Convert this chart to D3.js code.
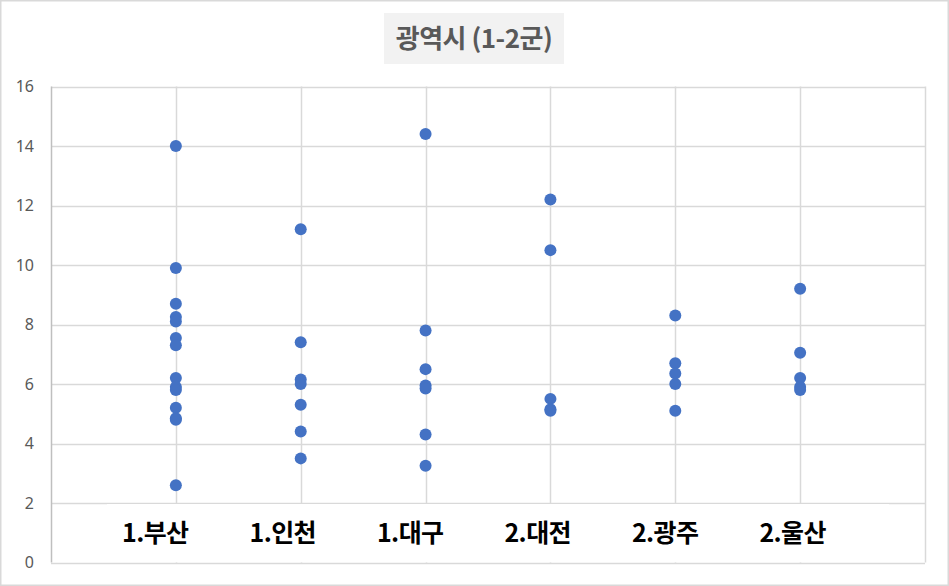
<!DOCTYPE html>
<html>
<head>
<meta charset="utf-8">
<script src="https://cdn.jsdelivr.net/npm/d3@7"></script>
<style>
  html, body { margin: 0; padding: 0; background: #fff; }
  svg { display: block; }
</style>
</head>
<body>
<svg id="chart" width="949" height="586"></svg>
<script>
// ---- data ----
const titleText = "광역시 (1-2군)";
const categories = ["1.부산", "1.인천", "1.대구", "2.대전", "2.광주", "2.울산"];
const busan   = [14.0, 9.9, 8.7, 8.25, 8.1, 7.55, 7.3, 6.2, 5.9, 5.8, 5.2, 4.85, 4.8, 2.6];
const incheon = [11.2, 7.4, 6.15, 6.0, 5.3, 4.4, 3.5];
const daegu   = [14.4, 7.8, 6.5, 5.95, 5.85, 4.3, 3.25];
const daejeon = [12.2, 10.5, 5.5, 5.15, 5.1];
const gwangju = [8.3, 6.7, 6.35, 6.0, 5.1];
const ulsan   = [9.2, 7.05, 6.2, 5.9, 5.8];
const seriesValues = [busan, incheon, daegu, daejeon, gwangju, ulsan];
const yTicks = [0, 2, 4, 6, 8, 10, 12, 14, 16];
const xGridTicks = [0, 1, 2, 3, 4, 5, 6, 7];

// ---- layout ----
const W = 949, H = 586;
const plot = { left: 51, right: 925, top: 86.5, bottom: 562.5 };
const svg = d3.select("#chart");

// outer border
svg.append("rect").attr("x", 0.75).attr("y", 0.75).attr("width", W - 1.5).attr("height", H - 1.5)
  .attr("fill", "#fff").attr("stroke", "#d9d9d9").attr("stroke-width", 1.5);

const x = d3.scaleLinear().domain([0, 7]).range([plot.left, plot.right]);
const y = d3.scaleLinear().domain([0, 16]).range([plot.bottom, plot.top]);

// horizontal gridlines
svg.append("g").selectAll("line").data(yTicks).join("line")
  .attr("x1", plot.left).attr("x2", plot.right)
  .attr("y1", d => Math.round(y(d)) + 0.5).attr("y2", d => Math.round(y(d)) + 0.5)
  .attr("stroke", "#d9d9d9").attr("stroke-width", 1.5);

// vertical gridlines
svg.append("g").selectAll("line").data(xGridTicks).join("line")
  .attr("x1", d => Math.round(x(d)) + 0.5).attr("x2", d => Math.round(x(d)) + 0.5)
  .attr("y1", plot.top).attr("y2", plot.bottom)
  .attr("stroke", d => d === 0 ? "#bfbfbf" : "#d9d9d9").attr("stroke-width", 1.5);

// y tick labels
svg.append("g").selectAll("text").data(yTicks).join("text")
  .attr("x", 34).attr("y", d => y(d)).attr("dy", "0.35em")
  .attr("text-anchor", "end")
  .attr("font-family", "'Noto Sans', 'Noto Sans CJK KR', sans-serif")
  .attr("font-size", 16).attr("fill", "#595959")
  .text(d => d);

// points
const pts = [];
seriesValues.forEach((vals, i) => vals.forEach(v => pts.push({ i: i + 1, v })));
svg.append("g").selectAll("circle").data(pts).join("circle")
  .attr("cx", d => x(d.i)).attr("cy", d => y(d.v)).attr("r", 6)
  .attr("fill", "#4472c4");

// white category label box overlay
const box = { x: 107, y: 504, w: 782, h: 58 };
svg.append("rect").attr("x", box.x).attr("y", box.y).attr("width", box.w).attr("height", box.h)
  .attr("fill", "#fff");
const labelG = svg.append("g");
let cursor = 122;
categories.forEach(c => {
  const t = labelG.append("text")
    .attr("x", cursor).attr("y", 533).attr("dy", "0.36em")
    .attr("font-family", "'Noto Sans CJK KR', sans-serif")
    .attr("font-weight", 700).attr("font-size", 25).attr("letter-spacing", -0.6)
    .attr("fill", "#000")
    .text(c);
  cursor += t.node().getComputedTextLength() + 61;
});

// title
const titleG = svg.append("g");
titleG.append("rect").attr("x", 384).attr("y", 13).attr("width", 180).attr("height", 51)
  .attr("fill", "#f2f2f2");
titleG.append("text").attr("x", 474).attr("y", 39).attr("dy", "0.36em")
  .attr("text-anchor", "middle")
  .attr("font-family", "'Noto Sans CJK KR', sans-serif")
  .attr("font-weight", 700).attr("font-size", 26).attr("letter-spacing", -0.5)
  .attr("fill", "#595959")
  .text(titleText);
</script>
</body>
</html>
